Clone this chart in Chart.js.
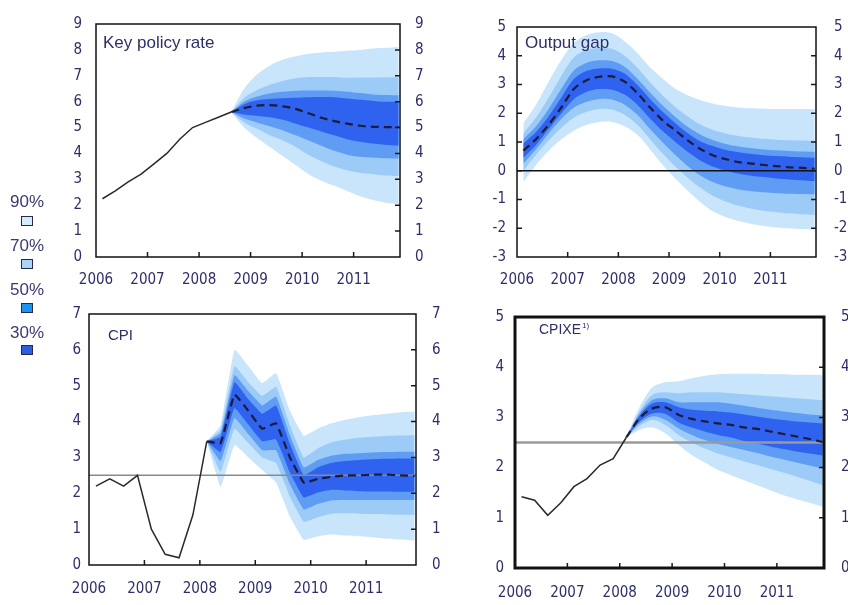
<!DOCTYPE html>
<html><head><meta charset="utf-8">
<script src="https://cdn.jsdelivr.net/npm/chart.js@4"></script>
<style>
html,body{margin:0;padding:0;background:#fff;width:848px;height:605px;overflow:hidden;position:relative;}
canvas{position:absolute;left:0;top:0;}
.lg{position:absolute;font-family:"Liberation Sans",Arial,sans-serif;font-size:17px;color:#3a3a72;line-height:17px;}
.bx{position:absolute;width:10px;height:8px;border:1.5px solid #28284a;}
</style></head><body>
<canvas id="c1" width="900" height="605"></canvas>
<canvas id="c2" width="900" height="605"></canvas>
<canvas id="c3" width="900" height="605"></canvas>
<canvas id="c4" width="900" height="605"></canvas>
<div id="legend"></div>
<script>
// ---------- categories / ticks ----------
const quarters = ['2006Q1','2006Q2','2006Q3','2006Q4','2007Q1','2007Q2','2007Q3','2007Q4',
  '2008Q1','2008Q2','2008Q3','2008Q4','2009Q1','2009Q2','2009Q3','2009Q4',
  '2010Q1','2010Q2','2010Q3','2010Q4','2011Q1','2011Q2','2011Q3','2011Q4'];
const yearTicks = [2006, 2007, 2008, 2009, 2010, 2011];
const bandLabels = ['90%', '70%', '50%', '30%'];
const bandColors = ['#c8e5fb', '#9dcbf7', '#5f9cf3', '#2f62ef'];
const legendColors = ['#d3ecfb', '#a9d4f7', '#1a94ee', '#2b5fe0'];

// ---------- Key policy rate ----------
const rateHistStart = '2006Q1';
const rateHist = [2.25, 2.55, 2.9, 3.2, 3.6, 4.0, 4.55, 5.0, 5.2, 5.4, 5.6];
const rateFcStart = '2008Q3';
const rateFc  = [5.6, 5.75, 5.85, 5.87, 5.82, 5.72, 5.55, 5.38, 5.25, 5.15, 5.07, 5.03, 5.02, 5.02];
const rate90U = [5.6, 6.5, 7.05, 7.4, 7.62, 7.75, 7.85, 7.9, 7.93, 7.97, 8.0, 8.05, 8.08, 8.1];
const rate90L = [5.6, 5.0, 4.6, 4.25, 3.9, 3.55, 3.2, 2.95, 2.75, 2.55, 2.35, 2.2, 2.1, 2.05];
const rate70U = [5.6, 6.15, 6.45, 6.65, 6.8, 6.9, 6.95, 6.95, 6.95, 6.92, 6.93, 6.93, 6.94, 6.94];
const rate70L = [5.6, 5.2, 4.95, 4.7, 4.5, 4.25, 3.95, 3.7, 3.5, 3.35, 3.25, 3.2, 3.15, 3.13];
const rate50U = [5.6, 6.0, 6.2, 6.32, 6.38, 6.42, 6.43, 6.43, 6.42, 6.38, 6.33, 6.28, 6.26, 6.25];
const rate50L = [5.6, 5.35, 5.2, 5.05, 4.9, 4.7, 4.5, 4.3, 4.1, 3.95, 3.87, 3.83, 3.81, 3.8];
const rate30U = [5.6, 5.9, 6.05, 6.1, 6.13, 6.15, 6.17, 6.18, 6.17, 6.12, 6.07, 6.03, 6.0, 6.0];
const rate30L = [5.6, 5.5, 5.45, 5.4, 5.3, 5.15, 5.0, 4.85, 4.7, 4.55, 4.45, 4.38, 4.33, 4.31];

// ---------- Output gap ----------
const gapFcStart = '2006Q1';
const gapFc  = [0.7, 1.1, 1.6, 2.2, 2.85, 3.15, 3.27, 3.28, 3.1, 2.7, 2.2, 1.75, 1.4, 1.05, 0.75, 0.53, 0.4, 0.3, 0.25, 0.2, 0.16, 0.12, 0.1, 0.07];
const gap90U = [1.65, 2.3, 3.1, 3.85, 4.45, 4.72, 4.82, 4.78, 4.5, 4.1, 3.6, 3.2, 2.85, 2.62, 2.45, 2.33, 2.25, 2.2, 2.17, 2.16, 2.15, 2.15, 2.15, 2.15];
const gap90L = [-0.4, 0.2, 0.7, 1.1, 1.4, 1.6, 1.7, 1.7, 1.55, 1.25, 0.75, 0.2, -0.27, -0.7, -1.1, -1.42, -1.62, -1.75, -1.85, -1.92, -1.97, -2.0, -2.03, -2.05];
const gap70U = [1.3, 1.85, 2.55, 3.3, 3.95, 4.2, 4.27, 4.24, 4.0, 3.58, 3.08, 2.62, 2.22, 1.88, 1.6, 1.42, 1.3, 1.21, 1.15, 1.11, 1.08, 1.06, 1.05, 1.04];
const gap70L = [0.0, 0.55, 1.05, 1.5, 1.85, 2.05, 2.15, 2.13, 1.95, 1.6, 1.1, 0.6, 0.15, -0.25, -0.6, -0.88, -1.08, -1.22, -1.32, -1.39, -1.44, -1.48, -1.51, -1.53];
const gap50U = [1.1, 1.55, 2.15, 2.85, 3.5, 3.76, 3.84, 3.82, 3.62, 3.2, 2.72, 2.27, 1.87, 1.52, 1.25, 1.06, 0.93, 0.84, 0.78, 0.74, 0.71, 0.69, 0.67, 0.66];
const gap50L = [0.25, 0.75, 1.3, 1.8, 2.2, 2.4, 2.5, 2.48, 2.3, 1.95, 1.45, 0.98, 0.55, 0.15, -0.17, -0.4, -0.55, -0.65, -0.71, -0.75, -0.78, -0.8, -0.81, -0.82];
const gap30U = [0.95, 1.35, 1.9, 2.55, 3.2, 3.48, 3.56, 3.55, 3.38, 2.98, 2.5, 2.05, 1.65, 1.3, 1.02, 0.85, 0.72, 0.64, 0.58, 0.54, 0.51, 0.49, 0.47, 0.45];
const gap30L = [0.45, 0.9, 1.45, 2.0, 2.5, 2.75, 2.84, 2.82, 2.65, 2.3, 1.82, 1.38, 1.0, 0.65, 0.35, 0.14, 0.0, -0.1, -0.17, -0.22, -0.27, -0.3, -0.33, -0.36];
const gapRefLevel = 0;

// ---------- CPI ----------
const cpiHistStart = '2006Q1';
const cpiHist = [2.2, 2.4, 2.2, 2.5, 1.0, 0.3, 0.2, 1.4, 3.45];
const cpiFcStart = '2008Q1';
const cpiFc  = [3.45, 3.4, 4.75, 4.3, 3.8, 3.95, 3.0, 2.3, 2.4, 2.46, 2.5, 2.5, 2.52, 2.52, 2.5, 2.48];
const cpi90U = [3.45, 3.9, 6.0, 5.55, 5.07, 5.35, 4.3, 3.6, 3.8, 3.95, 4.05, 4.12, 4.18, 4.22, 4.26, 4.28];
const cpi90L = [3.45, 2.18, 3.35, 3.0, 2.65, 2.3, 1.35, 0.7, 0.8, 0.85, 0.82, 0.8, 0.77, 0.74, 0.71, 0.68];
const cpi70U = [3.45, 3.78, 5.55, 5.1, 4.72, 4.97, 3.9, 3.0, 3.25, 3.42, 3.5, 3.55, 3.58, 3.6, 3.61, 3.62];
const cpi70L = [3.45, 2.6, 3.8, 3.4, 3.0, 2.85, 1.9, 1.2, 1.33, 1.43, 1.44, 1.43, 1.42, 1.41, 1.4, 1.39];
const cpi50U = [3.45, 3.68, 5.3, 4.85, 4.45, 4.7, 3.62, 2.72, 2.93, 3.05, 3.1, 3.12, 3.14, 3.15, 3.16, 3.16];
const cpi50L = [3.45, 2.9, 4.1, 3.65, 3.2, 3.2, 2.25, 1.55, 1.7, 1.8, 1.81, 1.81, 1.81, 1.81, 1.81, 1.81];
const cpi30U = [3.45, 3.58, 5.1, 4.62, 4.22, 4.45, 3.38, 2.5, 2.72, 2.85, 2.9, 2.93, 2.95, 2.96, 2.97, 2.97];
const cpi30L = [3.45, 3.15, 4.38, 3.92, 3.45, 3.5, 2.58, 1.88, 2.02, 2.1, 2.08, 2.06, 2.05, 2.05, 2.04, 2.04];
const cpiTarget = 2.5;

// ---------- CPIXE ----------
const cpixeHistStart = '2006Q1';
const cpixeHist = [1.42, 1.35, 1.05, 1.3, 1.62, 1.78, 2.05, 2.18, 2.6];
const cpixeFcStart = '2008Q1';
const cpixeFc  = [2.6, 2.98, 3.18, 3.2, 3.05, 2.97, 2.92, 2.88, 2.85, 2.8, 2.77, 2.72, 2.67, 2.62, 2.57, 2.51];
const cpixe90U = [2.6, 3.2, 3.6, 3.7, 3.72, 3.78, 3.83, 3.86, 3.87, 3.87, 3.87, 3.86, 3.86, 3.85, 3.85, 3.84];
const cpixe90L = [2.6, 2.75, 2.8, 2.68, 2.45, 2.25, 2.1, 1.95, 1.85, 1.75, 1.65, 1.55, 1.45, 1.37, 1.3, 1.22];
const cpixe70U = [2.6, 3.12, 3.45, 3.5, 3.48, 3.5, 3.5, 3.5, 3.48, 3.46, 3.44, 3.42, 3.4, 3.38, 3.36, 3.34];
const cpixe70L = [2.6, 2.83, 2.95, 2.85, 2.65, 2.5, 2.38, 2.28, 2.2, 2.12, 2.05, 1.97, 1.9, 1.82, 1.74, 1.65];
const cpixe50U = [2.6, 3.07, 3.35, 3.38, 3.3, 3.3, 3.3, 3.3, 3.27, 3.23, 3.19, 3.15, 3.12, 3.09, 3.06, 3.04];
const cpixe50L = [2.6, 2.88, 3.02, 2.95, 2.78, 2.65, 2.55, 2.47, 2.41, 2.35, 2.29, 2.22, 2.16, 2.1, 2.04, 1.98];
const cpixe30U = [2.6, 3.03, 3.28, 3.3, 3.2, 3.15, 3.13, 3.12, 3.1, 3.06, 3.02, 2.98, 2.95, 2.92, 2.9, 2.88];
const cpixe30L = [2.6, 2.92, 3.08, 3.07, 2.9, 2.8, 2.72, 2.65, 2.6, 2.53, 2.48, 2.42, 2.37, 2.32, 2.28, 2.24];
const cpixeTarget = 2.5;

// ---------- helpers ----------
const X_MIN = 2006, X_MAX = 2011.9;
const CANVAS_W = 900, CANVAS_H = 605;
function qx(label) { return +label.slice(0, 4) + (+label.slice(5) - 1) / 4 + 0.125; }
function series(start, values) {
  const i0 = quarters.indexOf(start);
  return values.map((v, i) => ({ x: qx(quarters[i0 + i]), y: v }));
}
const TICK_FONT = { family: '"Liberation Sans Narrow","DejaVu Sans Condensed","Arial Narrow",sans-serif', size: 15 };
const TICK_COLOR = '#2e2e6b';
const TITLE_FAMILY = '"Liberation Sans",Arial,sans-serif';

function makePanel(id, p) {
  const ds = [];
  ds.push({ data: series(p.fcStart, p.fc), borderColor: '#1c1c34', borderWidth: 2.2, borderDash: [8, 5],
    pointRadius: 0, tension: p.tension, fill: false, yAxisID: 'yL' });
  if (p.hist) ds.push({ data: series(p.histStart, p.hist), borderColor: '#2a2a2a', borderWidth: 1.5,
    pointRadius: 0, tension: 0, fill: false, yAxisID: 'yL' });
  if (p.ref !== undefined) ds.push({ data: [{ x: X_MIN, y: p.ref }, { x: X_MAX, y: p.ref }],
    borderColor: p.refColor, borderWidth: p.refWidth, pointRadius: 0, fill: false, yAxisID: 'yL' });
  const bands = [[p.b30U, p.b30L, 3], [p.b50U, p.b50L, 2], [p.b70U, p.b70L, 1], [p.b90U, p.b90L, 0]];
  bands.forEach(([u, l, ci]) => {
    ds.push({ data: series(p.fcStart, u), borderColor: 'rgba(0,0,0,0)', borderWidth: 0.01, pointRadius: 0,
      tension: p.tension, fill: '+1', backgroundColor: bandColors[ci], yAxisID: 'yL' });
    ds.push({ data: series(p.fcStart, l), borderColor: 'rgba(0,0,0,0)', borderWidth: 0.01, pointRadius: 0,
      tension: p.tension, fill: false, yAxisID: 'yL' });
  });
  const a = p.area;
  const WL = 50, WR = 40, HX = 30;
  const yAxis = (pos, gap) => ({
    position: pos, min: p.ymin, max: p.ymax,
    ticks: { stepSize: 1, padding: gap, font: TICK_FONT, color: TICK_COLOR },
    grid: { display: false, drawTicks: false }, border: { display: false },
    afterFit: s => { s.width = pos === 'left' ? WL : WR; }
  });
  const decor = {
    id: 'decor' + id,
    afterDraw(chart) {
      const { ctx, chartArea: c, scales } = chart;
      ctx.save();
      ctx.strokeStyle = '#1a1a1a'; ctx.lineWidth = 1.5;
      ctx.beginPath();
      scales.x.ticks.forEach(t => {
        const px = scales.x.getPixelForValue(t.value);
        if (px > c.left + 2 && px < c.right - 2) { ctx.moveTo(px, c.bottom); ctx.lineTo(px, c.bottom - 5); }
      });
      scales.yR.ticks.forEach(t => {
        const py = scales.yR.getPixelForValue(t.value);
        if (py > c.top + 2 && py < c.bottom - 2) { ctx.moveTo(c.right, py); ctx.lineTo(c.right - 5, py); }
      });
      if (p.leftTicks) scales.yL.ticks.forEach(t => {
        const py = scales.yL.getPixelForValue(t.value);
        if (py > c.top + 2 && py < c.bottom - 2) { ctx.moveTo(c.left, py); ctx.lineTo(c.left + 5, py); }
      });
      ctx.stroke();
      ctx.lineWidth = p.frameWidth; ctx.strokeStyle = '#111';
      ctx.strokeRect(c.left, c.top, c.right - c.left, c.bottom - c.top);
      ctx.fillStyle = '#2f2f68';
      ctx.textBaseline = 'alphabetic'; ctx.textAlign = 'left';
      ctx.font = p.titleSize + 'px ' + TITLE_FAMILY;
      const tx = c.left + p.titleDx, ty = c.top + p.titleDy;
      ctx.fillText(p.title, tx, ty);
      if (p.titleSup) {
        const w = ctx.measureText(p.title).width;
        ctx.font = Math.round(p.titleSize * 0.6) + 'px ' + TITLE_FAMILY;
        ctx.fillText(p.titleSup, tx + w + 1, ty - p.titleSize * 0.42);
      }
      ctx.restore();
    }
  };
  return new Chart(document.getElementById(id), {
    type: 'line',
    data: { datasets: ds },
    options: {
      responsive: false, animation: false, events: [],
      layout: { padding: { left: a.l - WL, right: CANVAS_W - a.r - WR, top: a.t, bottom: CANVAS_H - a.b - HX } },
      plugins: { legend: { display: false }, tooltip: { enabled: false } },
      scales: {
        x: { type: 'linear', position: 'bottom', min: X_MIN, max: X_MAX,
          afterBuildTicks: s => { s.ticks = yearTicks.map(v => ({ value: v })); },
          ticks: { padding: p.xGap, font: TICK_FONT, color: TICK_COLOR, maxRotation: 0, autoSkip: false,
            callback: v => String(v) },
          grid: { display: false, drawTicks: false }, border: { display: false },
          afterFit: s => { s.height = HX; } },
        yL: yAxis('left', p.gapL),
        yR: yAxis('right', p.gapR)
      }
    },
    plugins: [decor]
  });
}

makePanel('c1', { area: { l: 96, r: 400, t: 17, b: 257 }, ymin: 0, ymax: 9, gapL: 14, gapR: 15, xGap: 14,
  title: 'Key policy rate', titleSize: 17, titleDx: 7, titleDy: 24, frameWidth: 1.5, tension: 0.3,
  hist: rateHist, histStart: rateHistStart, fc: rateFc, fcStart: rateFcStart,
  b90U: rate90U, b90L: rate90L, b70U: rate70U, b70L: rate70L, b50U: rate50U, b50L: rate50L, b30U: rate30U, b30L: rate30L });

makePanel('c2', { area: { l: 517, r: 816, t: 18, b: 257 }, ymin: -3, ymax: 5, gapL: 11, gapR: 18, xGap: 14,
  title: 'Output gap', titleSize: 17, titleDx: 8, titleDy: 21, frameWidth: 1.5, tension: 0.3, leftTicks: true,
  fc: gapFc, fcStart: gapFcStart, ref: gapRefLevel, refColor: '#111', refWidth: 1.5,
  b90U: gap90U, b90L: gap90L, b70U: gap70U, b70L: gap70L, b50U: gap50U, b50L: gap50L, b30U: gap30U, b30L: gap30L });

makePanel('c3', { area: { l: 89, r: 416, t: 314, b: 565 }, ymin: 0, ymax: 7, gapL: 8, gapR: 16, xGap: 15,
  title: 'CPI', titleSize: 15, titleDx: 19, titleDy: 26, frameWidth: 1.5, tension: 0.1,
  hist: cpiHist, histStart: cpiHistStart, fc: cpiFc, fcStart: cpiFcStart, ref: cpiTarget, refColor: '#8a8a8a', refWidth: 1.5,
  b90U: cpi90U, b90L: cpi90L, b70U: cpi70U, b70L: cpi70L, b50U: cpi50U, b50L: cpi50L, b30U: cpi30U, b30L: cpi30L });

makePanel('c4', { area: { l: 515, r: 824, t: 317, b: 568 }, ymin: 0, ymax: 5, gapL: 11, gapR: 17, xGap: 16,
  title: 'CPIXE', titleSup: '1)', titleSize: 14, titleDx: 24, titleDy: 17, frameWidth: 3, tension: 0.3,
  hist: cpixeHist, histStart: cpixeHistStart, fc: cpixeFc, fcStart: cpixeFcStart, ref: cpixeTarget, refColor: '#9a9a9a', refWidth: 2.5,
  b90U: cpixe90U, b90L: cpixe90L, b70U: cpixe70U, b70L: cpixe70L, b50U: cpixe50U, b50L: cpixe50L, b30U: cpixe30U, b30L: cpixe30L });

// ---------- legend (left side) ----------
const legendTextTop = [193, 237, 281, 324];
const legendBoxTop = [216, 259, 303, 345];
const lg = document.getElementById('legend');
bandLabels.forEach((lab, i) => {
  const t = document.createElement('div');
  t.className = 'lg'; t.textContent = lab;
  t.style.left = '10px'; t.style.top = legendTextTop[i] + 'px';
  lg.appendChild(t);
  const b = document.createElement('div');
  b.className = 'bx'; b.style.background = legendColors[i];
  b.style.left = '21px'; b.style.top = legendBoxTop[i] + 'px';
  lg.appendChild(b);
});
</script>
</body></html>
